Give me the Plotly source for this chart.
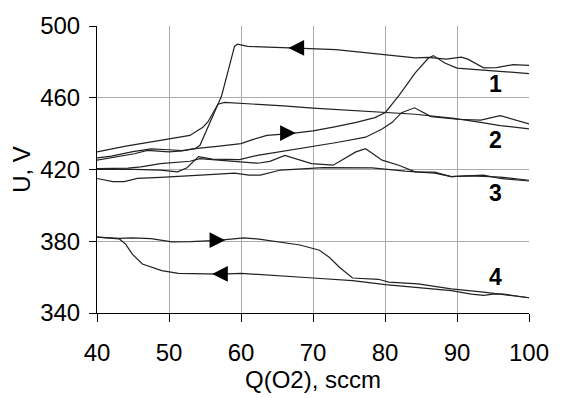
import plotly.graph_objects as go

# ---- data ----
loop1_fwd_x = [40, 42, 45.2, 47.0, 50, 51.8, 53.6, 57, 60, 61.5, 63.6, 66.8, 70, 73, 76, 78.6, 80.05, 81.9, 84.2, 86.0, 86.7, 88.3, 90, 95, 100]
loop1_fwd_y = [425.2, 426.5, 428.8, 430.7, 429.8, 430.3, 431.6, 433.0, 434.4, 436.5, 439.0, 440.0, 441.5, 443.8, 446.3, 448.9, 451.8, 461, 473.9, 482, 483.5, 479.4, 476.5, 475, 473.5]

loop1_back_x = [100, 97.8, 95.5, 93.7, 91.5, 90.6, 88.5, 86, 84.2, 79.6, 75, 73.2, 67.7, 63.6, 60.9, 59.5, 59.1, 57.3, 55.9, 54.3, 53.6, 51.8, 50, 47.5, 45, 42, 40]
loop1_back_y = [478, 478.5, 476.8, 476.7, 481.5, 482.6, 481.5, 482.5, 482.2, 484.0, 486.0, 486.8, 487.7, 488.0, 488.6, 489.9, 488.6, 461, 448.1, 433.5, 431.6, 430.5, 431.0, 431.5, 430.0, 427.5, 426.5]

loop2_fwd_x = [40, 44, 48.8, 51.2, 52.5, 53.6, 54.1, 56, 59.8, 62.3, 66, 69.8, 73.5, 77.3, 79.6, 81.0, 82.3, 84.1, 86.4, 90, 93.3, 96, 100]
loop2_fwd_y = [420.0, 420.2, 419.7, 418.7, 421, 425.5, 427.2, 425.8, 425.5, 427.9, 430.3, 432.5, 435.2, 438.0, 442.6, 446.3, 451.7, 454.4, 449.5, 448.0, 447.5, 450.0, 445.4]

loop2_back_x = [100, 96, 93.3, 89.6, 84.2, 79.6, 75, 70, 65.9, 60, 57.7, 56.8, 55.4, 54.7, 52.9, 48.8, 44, 40]
loop2_back_y = [442.6, 444.5, 446.3, 448.5, 450.8, 451.8, 452.8, 454.2, 455.5, 456.8, 457.4, 456.4, 446.5, 443.6, 439.0, 436.2, 433, 429.8]

loop3_a_x = [40, 42.2, 43.8, 45.6, 48.8, 50.2, 55, 59.1, 61.1, 62.7, 65.5, 71.4, 78.2, 82.8, 86.9, 89.2, 91.7, 93.7, 96, 100]
loop3_a_y = [415.0, 413.2, 413.2, 415.0, 415.6, 416.0, 417, 418.0, 416.9, 416.9, 419.7, 421.0, 420.9, 419.1, 418.0, 416.0, 416.7, 416.9, 415, 413.6]

loop3_b_x = [40, 44.3, 46.1, 48.8, 52.9, 54.3, 56, 59.8, 62.3, 64, 66.1, 69.8, 72.8, 75.95, 77.3, 79.6, 81.9, 84.2, 86.9, 89.2, 91.5, 93.7, 96, 100]
loop3_b_y = [420.5, 420.8, 421.5, 423.3, 424.6, 426.1, 425.5, 424.5, 423.5, 424.5, 427.9, 423.3, 422.4, 429.8, 431.6, 425.2, 422.4, 418.7, 418.5, 416, 416.5, 416.2, 415.8, 414]

loop4_fwd_x = [40, 43.1, 44.9, 47.5, 50.4, 53, 56.8, 60.4, 62.5, 64.55, 68.2, 70.9, 72.3, 73.7, 75.5, 79.1, 80.5, 84.6, 89.2, 93.7, 100]
loop4_fwd_y = [382.3, 381.6, 381.9, 381.5, 379.7, 379.8, 380.5, 381.9, 381.2, 380.1, 377.9, 375.0, 370.9, 365.4, 359.5, 358.8, 357.2, 356.2, 353.5, 351.6, 348.5]

loop4_back_x = [100, 96.5, 95, 93.7, 92, 89.2, 80.05, 75.5, 70, 64.1, 60, 57.2, 51.3, 49.0, 46.3, 44.9, 44.0, 43.1, 40]
loop4_back_y = [348.5, 350.5, 350.5, 349.8, 350.5, 352.5, 355.8, 358.0, 359.5, 360.8, 362.1, 361.7, 362.1, 363.6, 367.3, 372.8, 378.3, 381.3, 382.3]

curve_labels = ["1", "2", "3", "4"]
label_x = [95.3, 95.3, 95.3, 95.3]
label_y = [467.4, 436.2, 406.8, 359.9]

# arrows: tip x, tip y, direction (+1 right, -1 left)
arrow_x = [66.6, 67.6, 57.8, 56.0]
arrow_y = [487.8, 440.3, 380.6, 361.8]
arrow_dir = [-1, 1, 1, -1]

x_ticks = [40, 50, 60, 70, 80, 90, 100]
y_ticks = [340, 380, 420, 460, 500]

# ---- figure ----
LINE = dict(color="#222222", width=1.2)
fig = go.Figure()
for xs, ys in [(loop1_fwd_x, loop1_fwd_y), (loop1_back_x, loop1_back_y),
               (loop2_fwd_x, loop2_fwd_y), (loop2_back_x, loop2_back_y),
               (loop3_a_x, loop3_a_y), (loop3_b_x, loop3_b_y),
               (loop4_fwd_x, loop4_fwd_y), (loop4_back_x, loop4_back_y)]:
    fig.add_trace(go.Scatter(x=xs, y=ys, mode="lines", line=LINE,
                             showlegend=False, hoverinfo="skip"))

FONT = "Liberation Sans, Arial, sans-serif"
for t, lx, ly in zip(curve_labels, label_x, label_y):
    fig.add_annotation(x=lx, y=ly, text="<b>%s</b>" % t, showarrow=False,
                       font=dict(family=FONT, size=23, color="black"))

for axx, ayy, d in zip(arrow_x, arrow_y, arrow_dir):
    fig.add_annotation(x=axx, y=ayy, ax=axx - d * 1.6, ay=ayy,
                       xref="x", yref="y", axref="x", ayref="y",
                       text="", showarrow=True, arrowhead=2, arrowsize=2.6,
                       arrowwidth=1.2, arrowcolor="black")

fig.update_layout(
    width=561, height=398,
    margin=dict(l=97, r=25, t=23, b=85),
    paper_bgcolor="white", plot_bgcolor="white",
    font=dict(family=FONT, size=24, color="black"),
)
fig.update_xaxes(range=[40, 100], tickvals=x_ticks, showgrid=True,
                 gridcolor="#ababab", gridwidth=1, zeroline=False,
                 showline=True, linecolor="black", linewidth=1,
                 ticks="outside", ticklen=8, tickcolor="black",
                 tickfont=dict(size=24), ticklabelstandoff=10,
                 title=dict(text="Q(O2), sccm", font=dict(size=24), standoff=0))
fig.update_yaxes(range=[340, 500], tickvals=y_ticks, showgrid=True,
                 gridcolor="#ababab", gridwidth=1, zeroline=False,
                 showline=True, linecolor="black", linewidth=1,
                 ticks="outside", ticklen=7, tickcolor="black",
                 tickfont=dict(size=24), ticklabelstandoff=4,
                 title=dict(text="U, V", font=dict(size=24), standoff=2))

fig.write_html("out.html")
